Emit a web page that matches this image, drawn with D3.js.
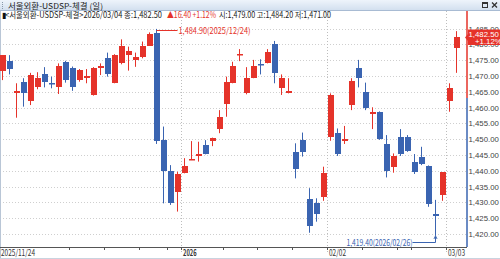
<!DOCTYPE html>
<html>
<head>
<meta charset="utf-8">
<script src="https://cdn.jsdelivr.net/npm/d3@7"></script>
<style>
html, body { margin: 0; padding: 0; background: #fff; }
svg { display: block; font-family: "Noto Sans CJK KR", "Noto Sans", sans-serif; }
</style>
</head>
<body>
<div id="chart"></div>
<script>
// daily candles, 2025/11/24 .. 2026/03/04
const dates = [
    '2025/11/24', '2025/11/25', '2025/11/26', '2025/11/27', '2025/11/28',
    '2025/12/01', '2025/12/02', '2025/12/03', '2025/12/04', '2025/12/05',
    '2025/12/08', '2025/12/09', '2025/12/10', '2025/12/11', '2025/12/12',
    '2025/12/15', '2025/12/16', '2025/12/17', '2025/12/18', '2025/12/19',
    '2025/12/22', '2025/12/23', '2025/12/24', '2025/12/26',
    '2025/12/29', '2025/12/30',
    '2026/01/02',
    '2026/01/05', '2026/01/06', '2026/01/07', '2026/01/08', '2026/01/09',
    '2026/01/12', '2026/01/13', '2026/01/14', '2026/01/15', '2026/01/16',
    '2026/01/19', '2026/01/20', '2026/01/21', '2026/01/22', '2026/01/23',
    '2026/01/26', '2026/01/27', '2026/01/28', '2026/01/29', '2026/01/30',
    '2026/02/02', '2026/02/03', '2026/02/04', '2026/02/05', '2026/02/06',
    '2026/02/09', '2026/02/10', '2026/02/11', '2026/02/12', '2026/02/13',
    '2026/02/19', '2026/02/20',
    '2026/02/23', '2026/02/24', '2026/02/25', '2026/02/26', '2026/02/27',
    '2026/03/03', '2026/03/04'
];
const open = [
    1471.6, 1474.7, 1464.7, 1468.0, 1462.2, 1466.6, 1470.6, 1467.9, 1466.4, 1474.3,
    1472.6, 1468.7, 1469.5, 1464.0, 1472.7, 1475.6, 1467.7, 1474.0, 1476.6, 1475.1,
    1476.1, 1479.5, 1483.6, 1449.7, 1439.9, 1433.2, 1439.2, 1443.4, 1444.6, 1448.2,
    1449.3, 1453.4, 1461.1, 1467.9, 1476.6, 1464.5, 1469.5, 1473.7, 1474.0, 1480.0,
    1466.4, 1464.8, 1445.9, 1449.7, 1431.0, 1429.7, 1431.8, 1450.6, 1451.9, 1449.6,
    1460.8, 1472.4, 1465.0, 1458.2, 1458.5, 1448.5, 1441.3, 1450.6, 1450.8, 1442.9,
    1444.5, 1441.5, 1426.3, 1432.1, 1461.9, 1479.0
];
const high = [
    1476.6, 1476.6, 1467.7, 1469.3, 1471.0, 1471.2, 1472.8, 1469.8, 1474.0, 1474.8,
    1473.0, 1472.2, 1472.2, 1472.8, 1474.0, 1477.4, 1476.9, 1481.6, 1479.3, 1477.4,
    1480.9, 1483.8, 1484.9, 1454.0, 1441.8, 1439.7, 1444.0, 1449.4, 1449.2, 1449.7,
    1450.5, 1459.2, 1469.8, 1474.5, 1478.5, 1472.8, 1475.1, 1475.3, 1478.5, 1481.1,
    1470.5, 1469.3, 1448.7, 1452.1, 1434.5, 1431.3, 1441.3, 1464.5, 1453.4, 1454.2,
    1469.3, 1475.1, 1467.9, 1460.1, 1458.8, 1451.3, 1445.5, 1453.2, 1451.3, 1445.3,
    1447.6, 1441.7, 1430.8, 1439.6, 1467.7, 1484.2
];
const low = [
    1468.7, 1470.5, 1456.8, 1460.3, 1460.8, 1465.8, 1466.4, 1466.1, 1464.3, 1467.9,
    1465.3, 1468.2, 1467.7, 1463.8, 1470.3, 1469.8, 1467.7, 1473.7, 1471.7, 1472.9,
    1475.6, 1479.5, 1448.5, 1429.7, 1429.2, 1427.1, 1439.2, 1443.4, 1442.9, 1445.2,
    1447.8, 1451.9, 1457.1, 1467.7, 1474.7, 1464.2, 1469.3, 1470.5, 1474.0, 1467.7,
    1464.0, 1464.5, 1437.6, 1444.5, 1420.4, 1423.9, 1430.5, 1449.5, 1444.7, 1448.5,
    1459.2, 1466.4, 1459.2, 1453.2, 1449.8, 1437.9, 1439.4, 1444.7, 1446.0, 1439.0,
    1441.8, 1428.6, 1419.4, 1430.5, 1458.7, 1471.0
];
const close = [
    1476.6, 1472.1, 1465.3, 1464.5, 1470.3, 1469.5, 1468.0, 1467.7, 1473.2, 1468.5,
    1466.6, 1471.9, 1470.1, 1472.5, 1473.3, 1470.5, 1476.6, 1479.5, 1478.0, 1475.9,
    1479.6, 1483.3, 1449.4, 1440.0, 1429.7, 1438.9, 1441.5, 1443.8, 1445.3, 1445.5,
    1450.3, 1457.1, 1468.0, 1473.2, 1477.0, 1469.3, 1473.3, 1473.3, 1477.5, 1470.9,
    1469.5, 1465.3, 1440.6, 1446.0, 1422.6, 1426.3, 1439.4, 1464.0, 1445.2, 1450.1,
    1468.5, 1469.1, 1459.8, 1458.7, 1450.0, 1440.0, 1444.7, 1445.2, 1446.4, 1439.7,
    1442.4, 1429.5, 1425.8, 1439.5, 1466.1, 1482.5
];
const yTicks = [1420, 1425, 1430, 1435, 1440, 1445, 1450, 1455, 1460, 1465, 1470, 1475, 1480, 1485];
// week-start ticks on the date axis, and the labelled ones
const weekTicks = ['2025/11/24', '2025/12/08', '2025/12/15', '2025/12/22', '2025/12/29', '2026/01/02',
    '2026/01/12', '2026/01/19', '2026/01/26', '2026/02/02', '2026/02/09', '2026/02/19', '2026/02/23', '2026/03/03'];
const xLabels = [
    { date: '2025/11/24', text: '2025/11/24', bold: false },
    { date: '2026/01/02', text: '2026', bold: true },
    { date: '2026/02/02', text: '02/02', bold: false },
    { date: '2026/03/03', text: '03/03', bold: false }
];
const title = '서울외환-USDSP-체결 (일)';
const infoA = '<서울외환-USDSP-체결>2026/03/04 종:1,482.50';
const infoB = '▲16.40 +1.12%';
const infoC = '시:1,479.00 고:1,484.20 저:1,471.00';
const lastChange = '+1.12%';

const RED = '#e5332a';
const BLUE = '#3a64b1';
const NUMFONT = '"Liberation Sans", Arial, sans-serif';

const W = 500, H = 259;
const plot = { left: 0, right: 467, top: 11, bottom: 247 };

const candles = dates.map((d, i) => ({ date: d, o: open[i], h: high[i], l: low[i], c: close[i] }));

const svg = d3.select('#chart').append('svg')
    .attr('width', W)
    .attr('height', H);

const x = d3.scaleBand().domain(dates).range([0, 460]).paddingInner(0.14);
const y = d3.scaleLinear().domain([1420, 1485]).range([234, 28.6]);
const bx = d => Math.round(x(d));
const cx = d => bx(d) + 2.5;

// title bar
const grad = svg.append('defs').append('linearGradient')
    .attr('id', 'tbar').attr('x1', 0).attr('y1', 0).attr('x2', 0).attr('y2', 1);
grad.append('stop').attr('offset', '0%').attr('stop-color', '#eef4fb');
grad.append('stop').attr('offset', '100%').attr('stop-color', '#d3e0ef');
svg.append('rect').attr('x', 0).attr('y', 0).attr('width', W).attr('height', 10).attr('fill', 'url(#tbar)');
svg.append('line').attr('x1', 0).attr('x2', W).attr('y1', 10.5).attr('y2', 10.5).attr('stroke', '#a8bbd3');
svg.append('line').attr('x1', 2.5).attr('x2', 2.5).attr('y1', 2).attr('y2', 9)
    .attr('stroke', '#8899aa').attr('stroke-dasharray', '1,1');
svg.append('text').attr('x', 8).attr('y', 8.6)
    .attr('font-size', 8).attr('fill', '#222')
    .attr('textLength', 95).attr('lengthAdjust', 'spacingAndGlyphs')
    .text(title);
svg.append('rect').attr('x', 482.5).attr('y', 2.5).attr('width', 5).attr('height', 5)
    .attr('fill', 'none').attr('stroke', '#333');
svg.append('line').attr('x1', 482.5).attr('x2', 487.5).attr('y1', 3.5).attr('y2', 3.5).attr('stroke', '#333');
svg.append('path').attr('d', 'M492,2.5L497,7.5M497,2.5L492,7.5').attr('stroke', '#333').attr('stroke-width', 1.3);

// grid
const grid = svg.append('g');
grid.selectAll('line.h').data(yTicks).join('line')
    .attr('x1', plot.left).attr('x2', plot.right)
    .attr('y1', d => Math.round(y(d)) + 0.5).attr('y2', d => Math.round(y(d)) + 0.5)
    .attr('stroke', '#cfcfcf').attr('stroke-dasharray', '1,2');
grid.selectAll('line.v').data(xLabels.slice(1)).join('line')
    .attr('x1', d => bx(d.date) - 0.5).attr('x2', d => bx(d.date) - 0.5)
    .attr('y1', plot.top).attr('y2', 252)
    .attr('stroke', '#bdbdbd').attr('stroke-dasharray', '1,2');
svg.append('line').attr('x1', 0.5).attr('x2', 0.5).attr('y1', plot.top).attr('y2', H)
    .attr('stroke', '#b9c6d6');

// info line
svg.append('text').attr('x', 2).attr('y', 17.5).attr('font-size', 8).attr('fill', '#111').text('▮');
svg.append('text').attr('x', 5).attr('y', 17.5).attr('font-size', 8.5).attr('fill', '#222')
    .attr('textLength', 157).attr('lengthAdjust', 'spacingAndGlyphs').text(infoA);
svg.append('text').attr('x', 167).attr('y', 17.5).attr('font-size', 8.5).attr('fill', RED)
    .attr('textLength', 49).attr('lengthAdjust', 'spacingAndGlyphs').text(infoB);
svg.append('text').attr('x', 219).attr('y', 17.5).attr('font-size', 8.5).attr('fill', '#222')
    .attr('textLength', 112).attr('lengthAdjust', 'spacingAndGlyphs').text(infoC);

// candles
const g = svg.append('g');
g.selectAll('line.wick').data(candles).join('line')
    .attr('x1', d => cx(d.date)).attr('x2', d => cx(d.date))
    .attr('y1', d => y(d.h)).attr('y2', d => y(d.l))
    .attr('stroke', d => d.c >= d.o ? RED : BLUE)
    .attr('stroke-width', 1);
g.selectAll('rect.body').data(candles).join('rect')
    .attr('x', d => bx(d.date))
    .attr('width', 6)
    .attr('y', d => Math.round(y(Math.max(d.o, d.c))))
    .attr('height', d => Math.max(1.5, Math.round(Math.abs(y(d.o) - y(d.c)))))
    .attr('fill', d => d.c >= d.o ? RED : BLUE);

// max / min annotations
const iMax = d3.maxIndex(high);
const iMin = d3.minIndex(low);
const hx = cx(dates[iMax]), hy = Math.round(y(high[iMax])) + 1.5;
svg.append('path').attr('d', `M${hx},${hy}H${hx + 21}`).attr('stroke', RED).attr('fill', 'none');
svg.append('text').attr('x', hx + 22).attr('y', hy + 3.2)
    .attr('font-size', 8.5).attr('fill', RED)
    .attr('textLength', 72).attr('lengthAdjust', 'spacingAndGlyphs')
    .text(`${d3.format(',.2f')(high[iMax])}(${dates[iMax]})`);
const lx = cx(dates[iMin]), ly = y(low[iMin]);
svg.append('path').attr('d', `M${lx},${ly + 1}V242.5H${lx - 23}`).attr('stroke', BLUE).attr('fill', 'none');
svg.append('path').attr('d', `M${lx - 1.5},${ly + 3}L${lx},${ly}L${lx + 1.5},${ly + 3}`)
    .attr('stroke', BLUE).attr('fill', 'none');
svg.append('text').attr('x', lx - 23).attr('y', 245.5).attr('text-anchor', 'end')
    .attr('font-size', 8.5).attr('fill', BLUE)
    .attr('textLength', 66).attr('lengthAdjust', 'spacingAndGlyphs')
    .text(`${d3.format(',.2f')(low[iMin])}(${dates[iMin]})`);

// x axis
svg.append('line').attr('x1', 0).attr('x2', plot.right).attr('y1', plot.bottom + 0.5).attr('y2', plot.bottom + 0.5)
    .attr('stroke', '#555');
svg.append('g').selectAll('line').data(weekTicks).join('line')
    .attr('x1', d => bx(d) - 0.5).attr('x2', d => bx(d) - 0.5)
    .attr('y1', plot.bottom).attr('y2', plot.bottom + 3)
    .attr('stroke', '#555');
svg.append('g').selectAll('text').data(xLabels).join('text')
    .attr('x', d => bx(d.date) + 1)
    .attr('y', 256)
    .attr('font-size', 8.5)
    .attr('font-weight', d => d.bold ? 'bold' : 'normal')
    .attr('fill', '#333')
    .attr('textLength', d => d.text.length * 3.4)
    .attr('lengthAdjust', 'spacingAndGlyphs')
    .text(d => d.text);
svg.append('line').attr('x1', 0).attr('x2', W).attr('y1', 258.5).attr('y2', 258.5).attr('stroke', '#c9d3df');

// y axis on the right
const yAxis = svg.append('g')
    .attr('transform', `translate(${plot.right},0)`)
    .call(d3.axisRight(y).tickValues(yTicks).tickSize(0).tickPadding(1.5).tickFormat(d3.format(',.2f')));
yAxis.select('.domain').remove();
yAxis.selectAll('text')
    .attr('font-family', NUMFONT)
    .attr('font-size', 7.8).attr('fill', '#444');

// axis line, red above / blue below
const split = 98;
svg.append('line').attr('x1', plot.right).attr('x2', plot.right).attr('y1', plot.top).attr('y2', split)
    .attr('stroke', RED).attr('stroke-width', 1.5);
svg.append('line').attr('x1', plot.right).attr('x2', plot.right).attr('y1', split).attr('y2', plot.bottom)
    .attr('stroke', BLUE).attr('stroke-width', 1.5);

// last price box
const lastY = y(close[close.length - 1]);
svg.append('path')
    .attr('d', `M${plot.right - 2},${lastY + 1}L${plot.right + 1},${lastY - 2.5}V${lastY - 7}H${W}V${lastY + 8.5}H${plot.right + 1}V${lastY + 4.5}Z`)
    .attr('fill', RED);
svg.append('text').attr('x', 468.5).attr('y', lastY + 0.5)
    .attr('font-family', NUMFONT)
    .attr('font-size', 7.8).attr('fill', '#fff')
    .text(d3.format(',.2f')(close[close.length - 1]));
svg.append('text').attr('x', 475).attr('y', lastY + 7.5)
    .attr('font-family', NUMFONT)
    .attr('font-size', 7.8).attr('fill', '#fff')
    .text(lastChange);
</script>
</body>
</html>
